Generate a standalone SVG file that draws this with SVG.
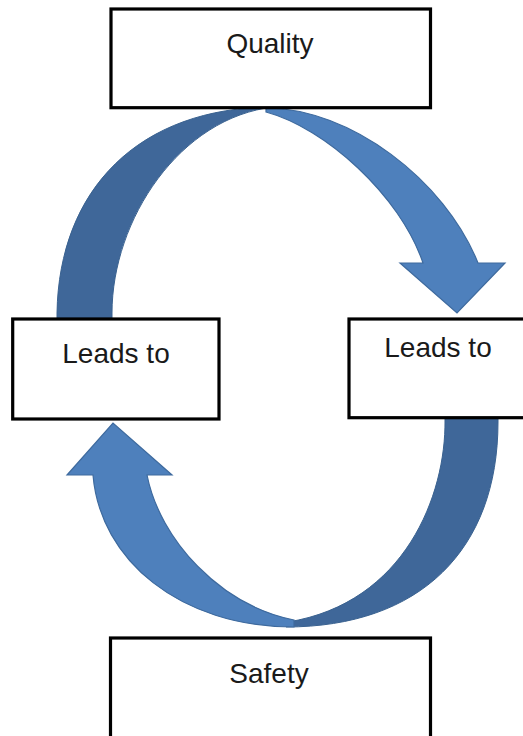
<svg xmlns="http://www.w3.org/2000/svg" width="523" height="736" viewBox="0 0 523 736">
  <style>
    .box rect { fill: #ffffff; stroke: #000000; stroke-width: 3.2; }
    .box text { font-family: "Liberation Sans", Arial, sans-serif; font-size: 28px; fill: #1a1a1a; text-anchor: middle; }
    .back { fill: #3F6799; stroke: #3A6290; stroke-width: 1; }
    .front { fill: #4E80BC; stroke: #3E6A9E; stroke-width: 1.2; stroke-linejoin: miter; }
  </style>
  <rect x="0" y="0" width="523" height="736" fill="#ffffff"/>
  <g id="connectors">
    <g id="arrow-top">
      <path class="back" d="M57,318 L57,313 C59,190 138,107 274,107 C180,117 112,220 112,313 L112,318 Z"/>
      <path class="front" d="M266,108 C350,108 445,180 478,263 L505,263 L457,313 L400,263 L423,263 C400,195 325,128 266,112 Z"/>
    </g>
    <g id="arrow-bottom">
      <path class="back" d="M498,418 L498,422 C498,550 420,627 286,627 L288,622 C405,603 446,495 445,420 L445,418 Z"/>
      <path class="front" d="M294,627 C180,627 100,560 93,475 L67,475 L113,423 L172,475 L147,475 C160,540 220,605 294,620 Z"/>
    </g>
  </g>
  <g id="node-quality" class="box">
    <rect x="111" y="9" width="319.5" height="98.7"/>
    <text x="270" y="53">Quality</text>
  </g>
  <g id="node-leads-left" class="box">
    <rect x="12.7" y="319" width="206.3" height="100"/>
    <text x="116" y="363">Leads to</text>
  </g>
  <g id="node-leads-right" class="box">
    <rect x="349" y="319" width="180" height="98.7"/>
    <text x="438" y="357">Leads to</text>
  </g>
  <g id="node-safety" class="box">
    <rect x="110.5" y="638" width="320" height="110"/>
    <text x="269" y="683">Safety</text>
  </g>
</svg>
